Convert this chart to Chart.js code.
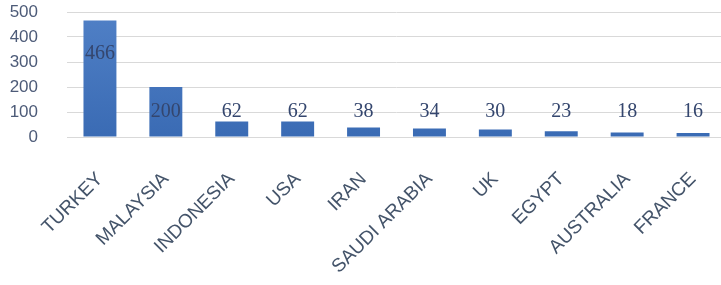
<!DOCTYPE html>
<html><head><meta charset="utf-8">
<script src="https://cdn.jsdelivr.net/npm/chart.js@4"></script>
<style>html,body{margin:0;padding:0;background:#fff;overflow:hidden}#w{width:721px;height:285px;overflow:hidden}</style>
</head><body><div id="w"><canvas id="c" width="726" height="285"></canvas></div>
<script>
const categories = ["TURKEY","MALAYSIA","INDONESIA","USA","IRAN","SAUDI ARABIA","UK","EGYPT","AUSTRALIA","FRANCE"];
const values = [466,200,62,62,38,34,30,23,18,16];
const yTicks = [0,100,200,300,400,500];

const labelPlugin = {
  id:'vlabels',
  afterDatasetsDraw(chart){
    const ctx = chart.ctx, meta = chart.getDatasetMeta(0), ys = chart.scales.y;
    ctx.save();
    ctx.font = '20px "Liberation Serif", serif';
    ctx.fillStyle = '#34466E';
    ctx.textAlign = 'center'; ctx.textBaseline = 'middle';
    meta.data.forEach((bar,i)=>{
      const v = values[i];
      const y = v > 400 ? ys.getPixelForValue(v*0.73) : ys.getPixelForValue(108);
      ctx.fillText(String(v), bar.x, y + 2);
    });
    ctx.restore();
  }
};

function barFill(ctx){
  const c = ctx.chart, a = c.chartArea;
  if(!a) return '#3E70BA';
  const g = c.ctx.createLinearGradient(0, a.top, 0, a.bottom);
  g.addColorStop(0, '#5080C6');
  g.addColorStop(1, '#3A6BB4');
  return g;
}

new Chart(document.getElementById('c'), {
  type:'bar',
  data:{labels:categories, datasets:[{data:values, backgroundColor:barFill, barPercentage:0.5, categoryPercentage:1}]},
  options:{
    responsive:false, animation:false,
    layout:{padding:{top:12,right:0,left:0,bottom:0}},
    plugins:{legend:{display:false}, tooltip:{enabled:false}},
    scales:{
      y:{min:0,max:500,
        afterBuildTicks(s){ s.ticks = yTicks.map(v=>({value:v})); },
        afterFit(s){ s.width = 67; s.paddingTop = 0; s.paddingBottom = 0; },
        border:{display:false},
        grid:{color:'#D9D9D9', drawTicks:false, lineWidth:1},
        ticks:{autoSkip:false, padding:29, color:'#4D5B78', font:{family:'"Liberation Sans", sans-serif', size:17}}
      },
      x:{
        afterFit(s){ s.height = 148; s.paddingLeft = 0; s.paddingRight = 0; },
        border:{display:true, color:'#D9D9D9'},
        grid:{display:false, drawTicks:false},
        ticks:{autoSkip:false, maxRotation:45, minRotation:45, padding:31, color:'#44546A', font:{family:'"Liberation Sans", sans-serif', size:19}}
      }
    }
  },
  plugins:[labelPlugin]
});
</script></body></html>
